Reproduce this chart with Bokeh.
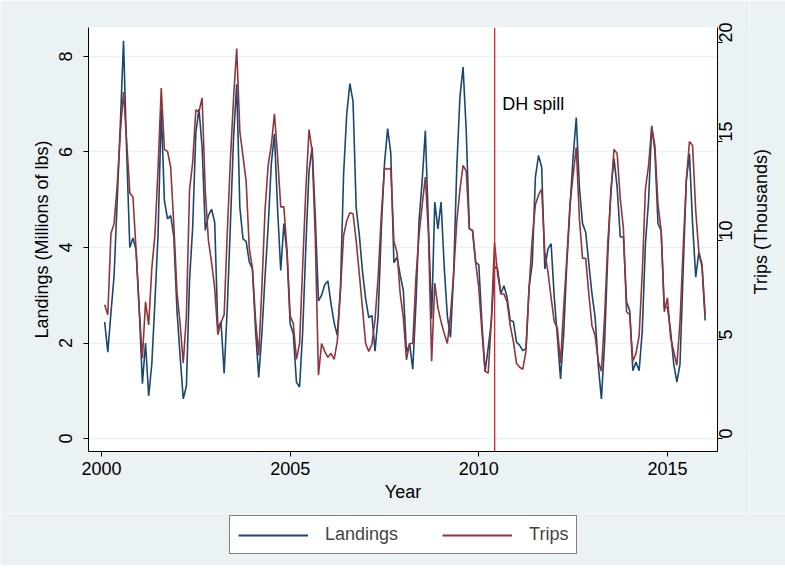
import math
from bokeh.plotting import figure
from bokeh.layouts import column, row
from bokeh.models import Range1d, LinearAxis, FixedTicker, Legend, LegendItem, Span, Label
from bokeh.embed import file_html
from bokeh.resources import INLINE

# Monthly series, Jan 2000 - Dec 2015 (one row per year)
landings = [
    2.44, 1.81, 2.63, 3.41, 5.0, 6.6, 8.33, 6.0, 4.0, 4.2, 3.94, 2.7,
    1.15, 2.0, 0.89, 1.56, 2.88, 4.3, 6.9, 4.98, 4.6, 4.67, 4.22, 2.68,
    1.72, 0.83, 1.1, 3.32, 4.43, 6.4, 6.9, 6.1, 4.36, 4.67, 4.8, 4.53,
    2.3, 2.45, 1.36, 2.74, 4.5, 6.3, 7.42, 4.84, 4.18, 4.13, 3.7, 3.55,
    2.26, 1.28, 2.19, 3.38, 4.43, 5.75, 6.38, 4.81, 3.52, 4.5, 3.87, 2.4,
    2.19, 1.18, 1.08, 2.26, 4.04, 5.6, 6.1, 4.64, 2.88, 3.0, 3.22, 3.3,
    2.82, 2.42, 2.16, 3.14, 5.54, 6.8, 7.43, 7.06, 4.84, 4.26, 3.5, 2.93,
    2.53, 2.58, 1.83, 2.58, 4.4, 5.75, 6.49, 5.98, 3.68, 3.8, 3.42, 3.1,
    1.81, 1.98, 1.45, 2.82, 4.57, 5.4, 6.45, 4.43, 2.51, 4.95, 4.39, 4.95,
    3.6, 2.56, 2.12, 3.45, 5.68, 7.15, 7.78, 6.45, 4.39, 4.36, 3.69, 3.64,
    2.4, 1.4, 1.9, 2.45, 3.6, 3.55, 3.03, 3.2, 2.96, 2.47, 2.45, 2.02,
    1.95, 1.84, 1.88, 3.17, 3.66, 5.47, 5.93, 5.68, 3.55, 3.97, 4.08, 2.96,
    2.12, 1.25, 2.19, 3.66, 4.84, 5.9, 6.72, 5.26, 4.5, 4.32, 3.66, 3.03,
    2.54, 1.53, 0.83, 1.98, 3.8, 5.2, 5.86, 5.26, 4.22, 4.22, 2.86, 2.68,
    1.42, 1.6, 1.42, 2.26, 4.08, 4.98, 6.55, 6.03, 4.5, 4.36, 2.75, 2.75,
    2.26, 1.56, 1.18, 1.56, 3.52, 5.4, 5.96, 4.5, 3.38, 3.9, 3.59, 2.47,
]
trips = [
    6.75, 6.25, 10.35, 10.85, 12.8, 15.5, 17.5, 15.0, 12.4, 12.2, 9.5, 6.5,
    4.06, 6.9, 5.74, 8.6, 10.3, 13.7, 17.7, 14.6, 14.5, 13.7, 10.8, 7.4,
    5.8, 3.8, 6.2, 12.56, 13.95, 16.6, 16.5, 17.2, 12.5, 10.0, 8.9, 7.6,
    5.24, 5.85, 6.25, 10.4, 14.1, 17.2, 19.7, 15.5, 14.25, 13.0, 9.6, 8.6,
    6.0, 4.2, 7.6, 11.5, 13.8, 14.8, 16.4, 14.25, 11.7, 11.7, 9.5, 6.2,
    5.8, 4.0, 4.8, 8.8, 12.6, 15.6, 14.5, 10.1, 3.2, 4.8, 4.4, 4.1,
    4.3, 4.0, 4.9, 7.5, 10.25, 11.0, 11.4, 11.35, 10.0, 8.3, 6.6, 4.8,
    4.4, 4.75, 6.0, 8.2, 11.3, 13.65, 13.6, 13.65, 9.95, 9.4, 7.3, 6.1,
    3.97, 4.8, 4.8, 8.1, 10.3, 11.8, 13.2, 10.3, 3.9, 7.85, 6.6, 5.9,
    5.3, 4.8, 6.25, 8.3, 10.96, 12.56, 13.8, 13.5, 10.6, 10.5, 8.9, 7.6,
    5.4, 3.4, 3.3, 6.0, 9.9, 8.3, 7.3, 7.3, 6.9, 5.7, 4.9, 3.8,
    3.6, 3.5, 4.4, 7.6, 10.1, 11.8, 12.3, 12.6, 9.4, 8.4, 7.1, 5.9,
    5.57, 3.8, 6.6, 9.1, 11.8, 13.3, 14.7, 11.1, 9.1, 9.1, 7.3, 5.7,
    5.2, 3.9, 3.4, 6.1, 9.8, 12.3, 14.6, 14.4, 12.1, 10.6, 6.4, 6.25,
    3.9, 4.3, 5.2, 8.4, 12.6, 13.8, 15.7, 14.8, 11.8, 10.5, 6.4, 7.1,
    5.1, 4.4, 3.7, 5.9, 9.6, 13.0, 15.0, 14.8, 11.5, 9.4, 8.8, 6.25,
]
start_year = 2000
month_index = list(range(1, len(landings) + 1))
x_time = [start_year + m / 12 for m in month_index]

spill_time = 2010.42
spill_label = "DH spill"

x_ticks = [2000, 2005, 2010, 2015]
left_ticks = [0, 2, 4, 6, 8]
right_ticks = [0, 5, 10, 15, 20]
series_names = ["Landings", "Trips"]

FONT = "Liberation Sans"
BG = "#EAF2F3"
NAVY = "#1a476f"
MAROON = "#90353b"

# sizes of the pieces (pixels)
TOP_H = 27 + 424 + 62      # main plot height
RIGHT_W = 36               # strip holding the right axis title
LEG_H = 52                 # strip holding the legend

p = figure(frame_width=629, frame_height=424, output_backend="svg", toolbar_location=None,
           x_range=Range1d(1999.655, 2016.327), y_range=Range1d(-0.272, 8.607),
           min_border_left=88, min_border_right=32, min_border_top=27, min_border_bottom=62)
p.extra_y_ranges = {"trips": Range1d(-0.656, 20.757)}
p.background_fill_color = "white"
p.border_fill_color = BG
p.outline_line_color = None

r1 = p.line(x_time, landings, line_color=NAVY, line_width=1.6)
r2 = p.line(x_time, trips, line_color=MAROON, line_width=1.6, y_range_name="trips")

p.add_layout(Span(location=spill_time, dimension="height", line_color="#d9262c", line_width=1.3))
p.add_layout(Label(x=spill_time + 0.2, y=7.0, text=spill_label, text_font=FONT,
                   text_font_size="18px", text_baseline="middle", text_color="black"))

p.xgrid.visible = False
p.ygrid.ticker = FixedTicker(ticks=left_ticks)
p.ygrid.grid_line_color = BG
p.ygrid.grid_line_width = 1.5

def style_axis(ax):
    ax.major_tick_in = 0
    ax.major_tick_out = 5
    ax.minor_tick_line_color = None
    ax.axis_line_color = "black"
    ax.major_tick_line_color = "black"
    ax.major_label_text_font = FONT
    ax.major_label_text_font_size = "18px"
    ax.major_label_text_color = "black"
    ax.axis_label_text_font = FONT
    ax.axis_label_text_font_size = "18px"
    ax.axis_label_text_font_style = "normal"
    ax.axis_label_text_color = "black"

xa = p.xaxis[0]
xa.ticker = FixedTicker(ticks=x_ticks)
xa.axis_label = "Year"
xa.axis_label_standoff = 4
style_axis(xa)

ya = p.yaxis[0]
ya.ticker = FixedTicker(ticks=left_ticks)
ya.axis_label = "Landings (Millions of lbs)"
ya.major_label_orientation = "vertical"
ya.major_label_standoff = 11
style_axis(ya)

ra = LinearAxis(y_range_name="trips", ticker=FixedTicker(ticks=right_ticks))
ra.major_label_orientation = math.pi / 2
ra.major_label_standoff = 3
style_axis(ra)
p.add_layout(ra, "right")

# right strip with the right-axis title (reads bottom to top)
rfig = figure(width=RIGHT_W, height=TOP_H, output_backend="svg", toolbar_location=None,
              x_axis_type=None, y_axis_type=None, min_border=0,
              x_range=Range1d(0, RIGHT_W), y_range=Range1d(0, TOP_H))
rfig.background_fill_color = BG
rfig.border_fill_color = BG
rfig.outline_line_color = None
rfig.add_layout(Label(x=11, y=TOP_H - 235, text="Trips (Thousands)", angle=math.pi / 2,
                      text_align="center", text_baseline="middle",
                      text_font=FONT, text_font_size="18px", text_color="black"))

# bottom strip with the legend (series drawn off-view, only their legend keys show)
lfig = figure(width=785, height=LEG_H, output_backend="svg", toolbar_location=None,
              x_axis_type=None, y_axis_type=None, min_border=0,
              x_range=Range1d(0, 785), y_range=Range1d(0, LEG_H))
lfig.background_fill_color = BG
lfig.border_fill_color = BG
lfig.outline_line_color = None
k1 = lfig.line(x_time, landings, line_color=NAVY, line_width=1.8)
k2 = lfig.line(x_time, trips, line_color=MAROON, line_width=1.8)
legend = Legend(items=[LegendItem(label=series_names[0], renderers=[k1]),
                       LegendItem(label=series_names[1], renderers=[k2])],
                orientation="horizontal", location=(229, 11),
                border_line_color="black", border_line_width=1,
                background_fill_color="white", background_fill_alpha=1,
                label_text_font=FONT, label_text_font_size="18px",
                glyph_width=70, glyph_height=16, label_standoff=17,
                spacing=44, padding=8, margin=0)
lfig.add_layout(legend, "center")

layout = column(row(p, rfig, spacing=0), lfig, spacing=0)
open("out.html", "w").write(file_html(layout, INLINE))
